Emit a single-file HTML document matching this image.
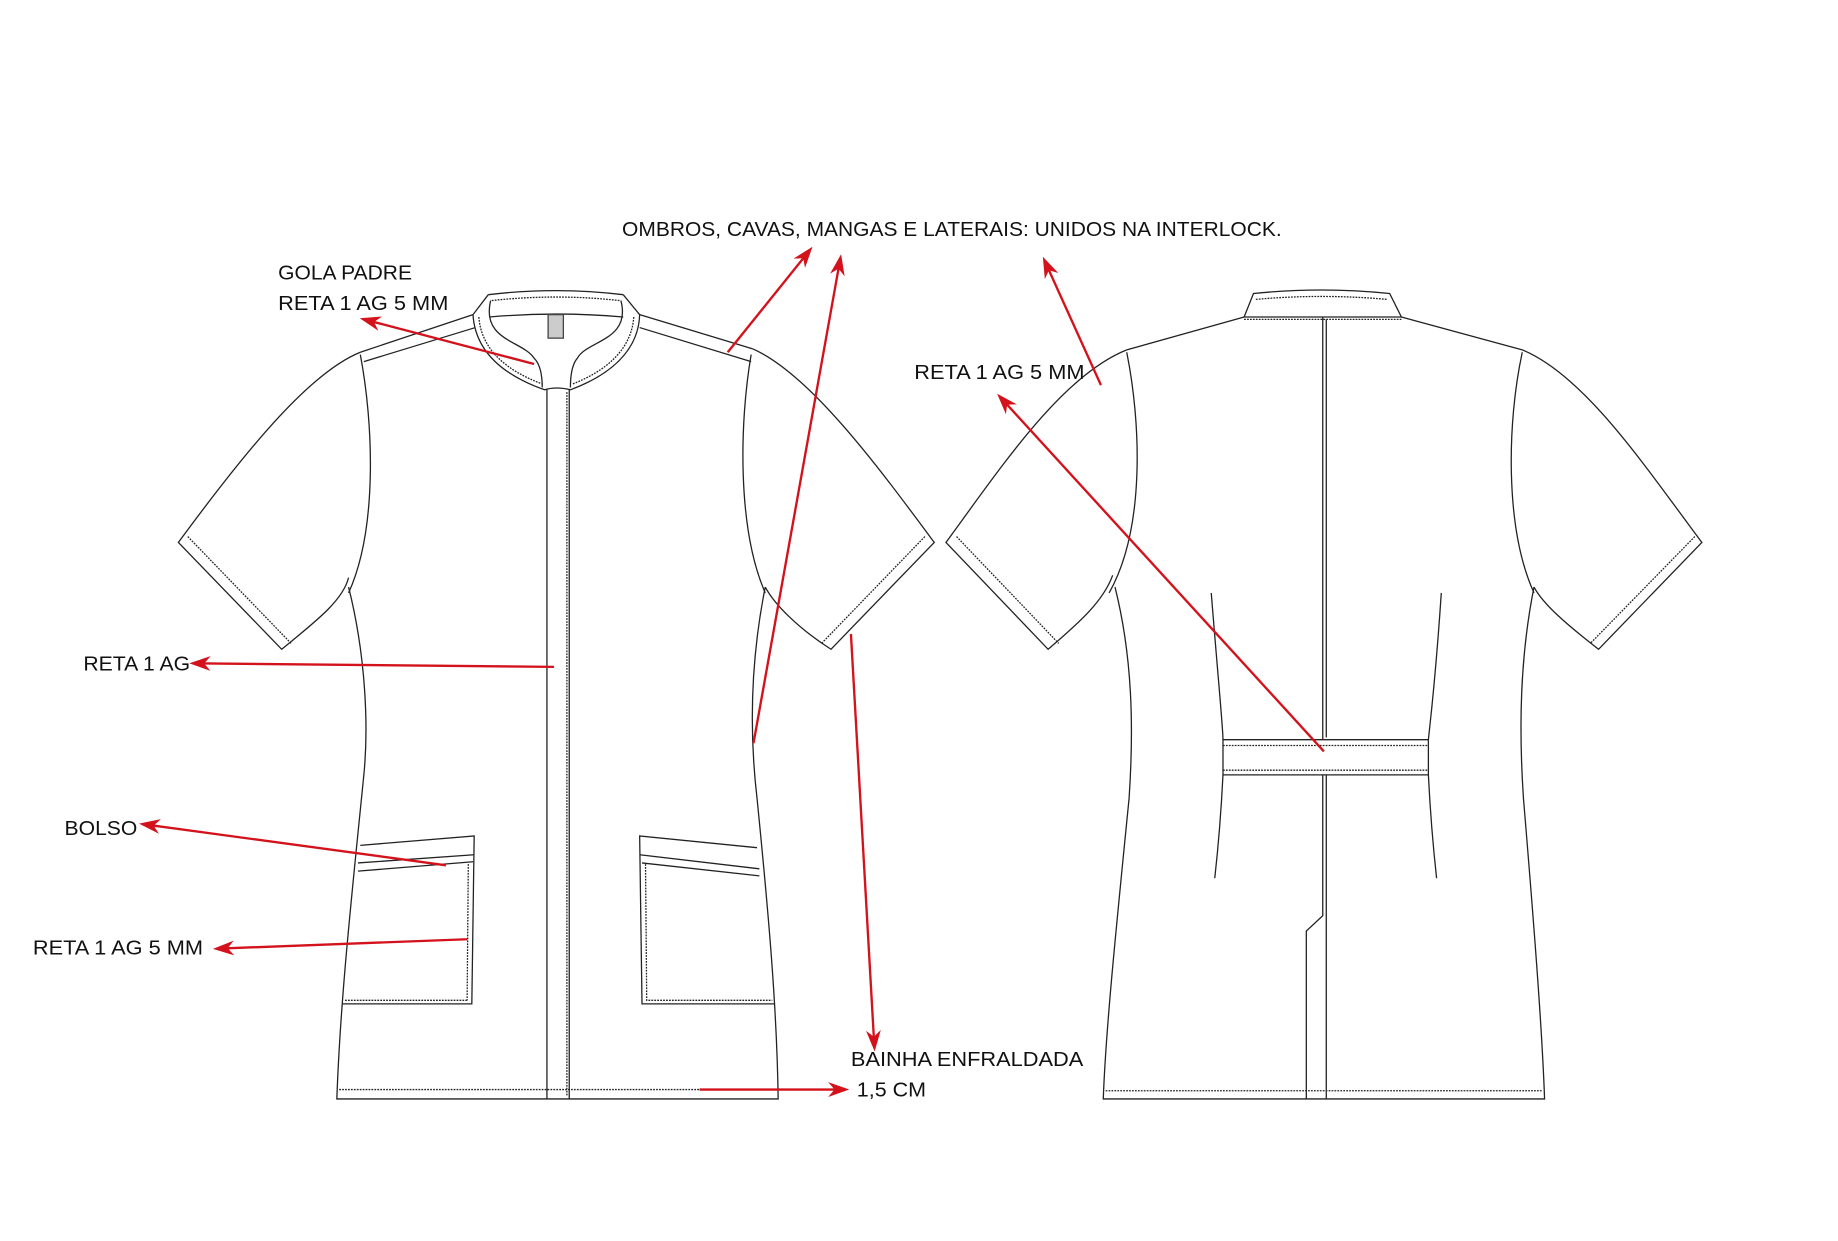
<!DOCTYPE html>
<html><head><meta charset="utf-8"><style>
html,body{margin:0;padding:0;background:#fff;}
svg{display:block;}
text{font-family:"Liberation Sans",sans-serif;font-size:17px;fill:#111;}
</style></head><body>
<svg width="1838" height="1241" viewBox="0 0 1566 1057" preserveAspectRatio="none" xmlns="http://www.w3.org/2000/svg">
<defs>
<marker id="ah" viewBox="0 0 20 14" refX="16" refY="7" markerWidth="18" markerHeight="13" markerUnits="userSpaceOnUse" orient="auto">
<path d="M20,7 L0,0 L6,7 L0,14 Z" fill="#d3121c"/>
</marker>
</defs>
<g fill="none" stroke="#222" stroke-width="1.1">
<path d="M416,251 Q474,244 531,251"/>
<path d="M419,256 Q474,250 528,256" stroke-dasharray="1.5 1"/>
<path d="M417,270 Q474,265 531,270"/>
<path d="M416,251 L403,268 C405,300 430,320 464,332 Q474,329 486,332 C518,320 544,300 545,268 L531,251"/>
<path d="M418,256 C410,290 445,290 455,305 Q462,312 462,330"/>
<path d="M529,256 C538,290 500,290 492,305 Q486,312 486,330"/>
<path d="M408,270 C410,298 432,316 462,327" stroke-dasharray="1.5 1"/>
<path d="M540,270 C538,298 516,316 488,327" stroke-dasharray="1.5 1"/>
<rect x="467" y="268" width="13" height="20" fill="#ccc" stroke="#444"/>
<path d="M466,332 L466,936 M485,332 L485,936"/>
<path d="M483,334 L483,934" stroke-dasharray="1.5 1"/>
<path d="M403,268 L307,300 M405,279 L310,308"/>
<path d="M545,268 L641,297 M545,279 L640,308"/>
<path d="M307,300 C262,318 205,390 152,462 L240,553 C268,530 292,512 297,492"/>
<path d="M160,457 L248,548" stroke-dasharray="1.5 1"/>
<path d="M307,302 C318,360 322,450 297,505"/>
<path d="M297,500 C312,560 314,620 310,660 C300,760 290,850 287,936 L663,936 C662,860 655,780 645,680 C638,620 640,560 652,500"/>
<path d="M289,928 L661,928" stroke-dasharray="1.5 1"/>
<path d="M641,297 C690,318 750,400 796,462 L708,553 C680,535 660,515 652,500"/>
<path d="M788,457 L700,548" stroke-dasharray="1.5 1"/>
<path d="M640,302 C630,360 628,450 652,505"/>
<path d="M307,720 L404,712 L402,855 L292,855"/>
<path d="M305,735 L404,728 M305,742 L403,734"/>
<path d="M399,736 L398,852 M294,852 L399,852" stroke-dasharray="1.5 1"/>
<path d="M645,722 L545,712 L547,855 L660,855"/>
<path d="M545,728 L647,740 M547,735 L647,746"/>
<path d="M550,736 L551,852 L658,852" stroke-dasharray="1.5 1"/>
<path d="M1068,250 Q1126,244 1184,250 L1194,270 L1060,270 Z"/>
<path d="M1070,255 Q1126,250 1182,255" stroke-dasharray="1.5 1"/>
<path d="M1060,272 L1194,272" stroke-dasharray="1.5 1"/>
<path d="M1060,270 L960,298 M1194,270 L1297,298"/>
<path d="M1127,270 L1127,630 M1130,272 L1130,628" />
<path d="M1127,660 L1127,780 L1113,793 L1113,936 M1130,660 L1130,936"/>
<path d="M1042,630 L1217,630 L1217,660 L1042,660 Z"/>
<path d="M1042,635 L1217,635 M1042,656 L1217,656" stroke-dasharray="1.5 1"/>
<path d="M1032,505 C1038,580 1042,620 1042,630 M1042,660 C1040,700 1037,730 1035,748"/>
<path d="M1228,505 C1223,580 1218,620 1217,630 M1217,660 C1219,700 1222,730 1224,748"/>
<path d="M960,298 C905,320 855,395 806,462 L893,553 C920,530 940,512 948,490"/>
<path d="M815,457 L902,548" stroke-dasharray="1.5 1"/>
<path d="M960,300 C972,360 976,450 945,505"/>
<path d="M950,500 C965,560 966,620 962,680 C950,800 942,880 940,936 L1316,936 C1314,880 1308,800 1298,680 C1294,620 1295,560 1307,500"/>
<path d="M942,929 L1314,929" stroke-dasharray="1.5 1"/>
<path d="M1297,298 C1350,320 1400,395 1450,462 L1362,553 C1335,532 1315,515 1307,500"/>
<path d="M1444,457 L1355,548" stroke-dasharray="1.5 1"/>
<path d="M1297,300 C1284,360 1282,450 1307,505"/>
</g>
<g stroke="#d3121c" stroke-width="2" fill="none" marker-end="url(#ah)">
<line x1="455" y1="310" x2="310" y2="272"/>
<line x1="620" y1="300" x2="690" y2="213"/>
<line x1="642" y1="633" x2="716" y2="220"/>
<line x1="938" y1="328" x2="890" y2="222"/>
<line x1="1128" y1="640" x2="852" y2="338"/>
<line x1="472" y1="568" x2="165" y2="565"/>
<line x1="380" y1="737" x2="122" y2="702"/>
<line x1="398" y1="800" x2="185" y2="808"/>
<line x1="725" y1="540" x2="745" y2="892"/>
<line x1="596" y1="928" x2="720" y2="928"/>
</g>
<text x="530" y="201" textLength="562" lengthAdjust="spacingAndGlyphs">OMBROS, CAVAS, MANGAS E LATERAIS: UNIDOS NA INTERLOCK.</text>
<text x="237" y="238" textLength="114" lengthAdjust="spacingAndGlyphs">GOLA PADRE</text>
<text x="237" y="264" textLength="145" lengthAdjust="spacingAndGlyphs">RETA 1 AG 5 MM</text>
<text x="779" y="323" textLength="145" lengthAdjust="spacingAndGlyphs">RETA 1 AG 5 MM</text>
<text x="71" y="571" textLength="91" lengthAdjust="spacingAndGlyphs">RETA 1 AG</text>
<text x="55" y="711" textLength="62" lengthAdjust="spacingAndGlyphs">BOLSO</text>
<text x="28" y="813" textLength="145" lengthAdjust="spacingAndGlyphs">RETA 1 AG 5 MM</text>
<text x="725" y="908" textLength="198" lengthAdjust="spacingAndGlyphs">BAINHA ENFRALDADA</text>
<text x="730" y="934" textLength="59" lengthAdjust="spacingAndGlyphs">1,5 CM</text>
</svg>
</body></html>
